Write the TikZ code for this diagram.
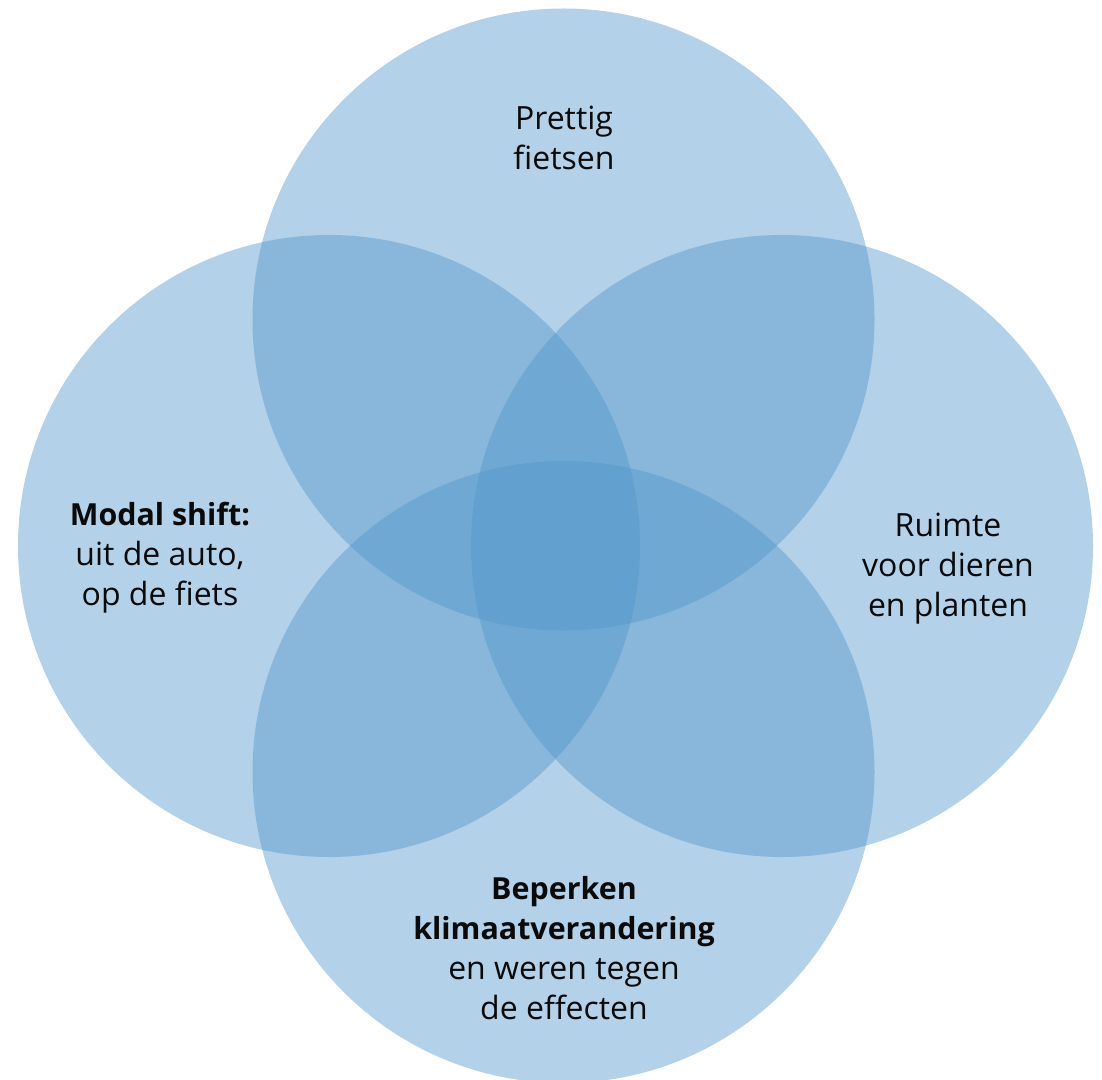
\documentclass[tikz,border=0pt]{standalone}
\usepackage{fontspec}
\setmainfont{Open Sans}
\usepackage{tikz}
\usepackage{xcolor}
\definecolor{vennBlue}{HTML}{5095CA}
\definecolor{vennText}{HTML}{0A0A0A}
% bold heading lines run a touch smaller than the body text
\newcommand{\hd}[1]{{\fontsize{22.8}{30}\selectfont\bfseries #1}}

\begin{document}
\begin{tikzpicture}[x=0.75pt, y=-0.75pt,
    blob/.style={circle, fill=vennBlue, fill opacity=0.435,
      minimum size=466.5pt, inner sep=0pt},
    lbl/.style={align=center, text=vennText,
      font=\fontsize{24}{30}\selectfont}]
        \useasboundingbox (0,0) rectangle (1102,1080);
        % four overlapping circles, darker where they stack
        \foreach \name/\cx/\cy in
          {cTop/563.5/319.5, cLeft/329/546, cRight/782/546, cBottom/563.5/772}{
          \node[blob] (\name) at (\cx,\cy) {};
        }
        \node[lbl] (tTop) at (564,138) {Prettig\\fietsen};
        \node[lbl] (tLeft) at (160,558) {\hd{Modal shift:}\\uit de auto,\\op de fiets};
        \node[lbl] (tRight) at (948,569) {Ruimte\\voor dieren\\en planten};
        \node[lbl] (tBottom) at (564,948)
          {\hd{Beperken}\\\hd{klimaatverandering}\\en weren tegen\\de effecten};
      \end{tikzpicture}
\end{document}
